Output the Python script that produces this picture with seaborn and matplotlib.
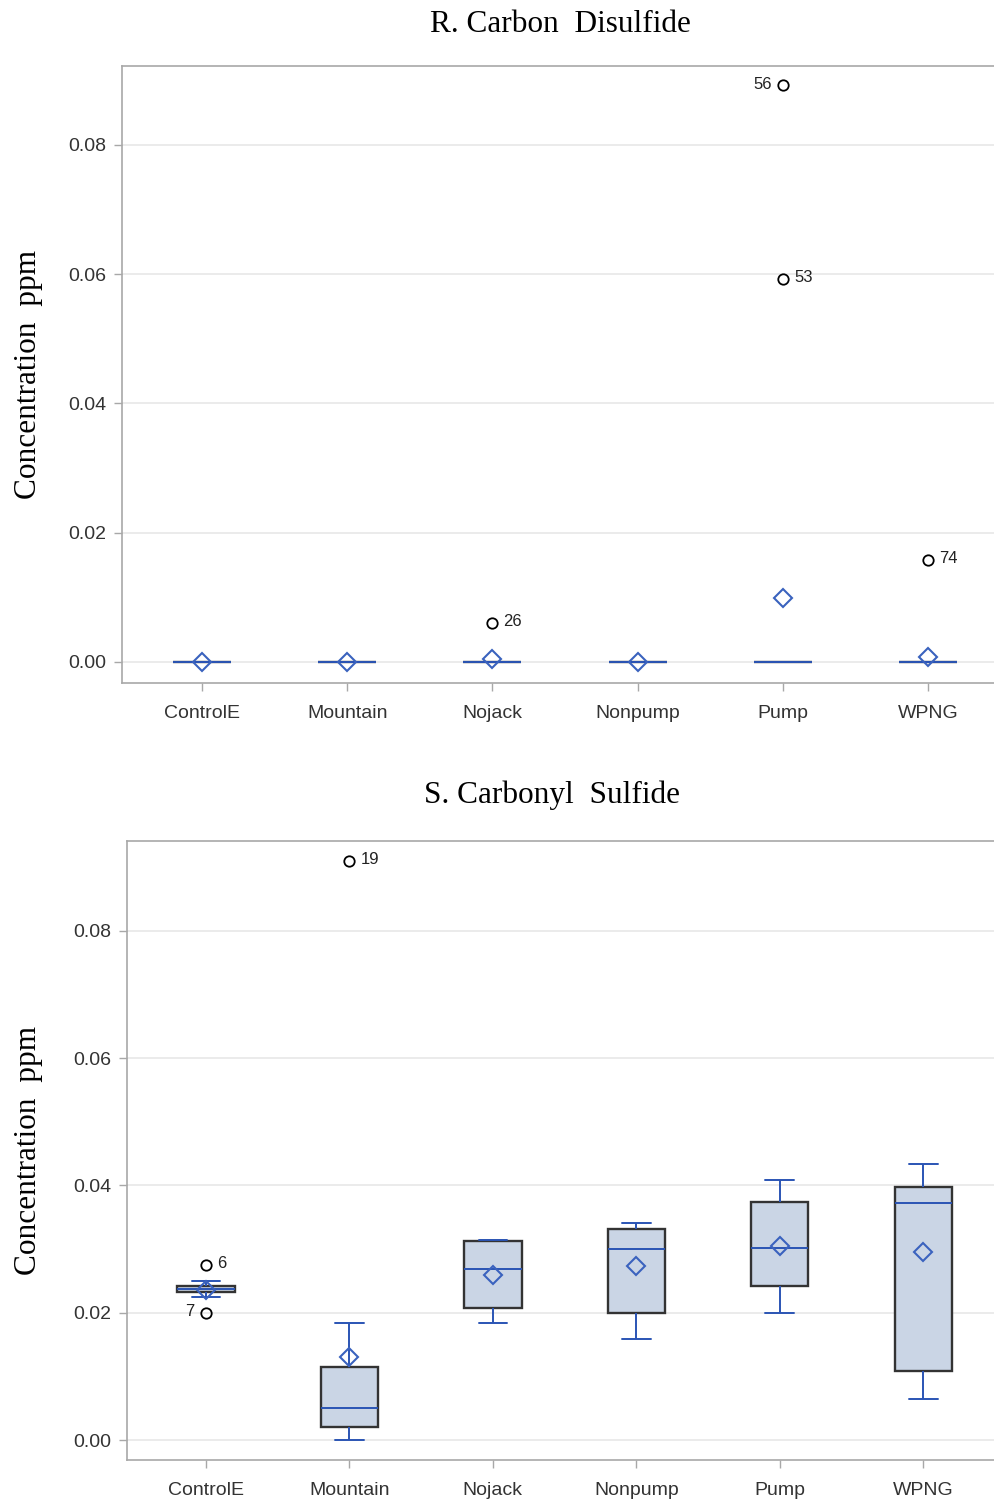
import numpy as np
import pandas as pd
import matplotlib
matplotlib.use("Agg")
import matplotlib.pyplot as plt
import seaborn as sns

# Sampling sites (x categories)
categories = ["ControlE", "Mountain", "Nojack", "Nonpump", "Pump", "WPNG"]

# R. Carbon disulfide (ppm): box statistics per site
cs2_low = [0.0, 0.0, 0.0, 0.0, 0.0, 0.0]
cs2_q1 = [0.0, 0.0, 0.0, 0.0, 0.0, 0.0]
cs2_median = [0.0, 0.0, 0.0, 0.0, 0.0, 0.0]
cs2_q3 = [0.0, 0.0, 0.0, 0.0, 0.0, 0.0]
cs2_high = [0.0, 0.0, 0.0, 0.0, 0.0, 0.0]
cs2_mean = [0.0, 0.0, 0.00045, 0.0, 0.0099, 0.0008]
cs2_outlier_site = ["Pump", "Pump", "Nojack", "WPNG"]
cs2_outlier_value = [0.0892, 0.0592, 0.0060, 0.0158]
cs2_outlier_id = ["56", "53", "26", "74"]

# S. Carbonyl sulfide (ppm): box statistics per site
cos_low = [0.0224, 0.0000, 0.0184, 0.0158, 0.0199, 0.0065]
cos_q1 = [0.0232, 0.0020, 0.0207, 0.0199, 0.0242, 0.0109]
cos_median = [0.0237, 0.0050, 0.0268, 0.0300, 0.0301, 0.0373]
cos_q3 = [0.0242, 0.0115, 0.0313, 0.0332, 0.0374, 0.0398]
cos_high = [0.0250, 0.0184, 0.0314, 0.0341, 0.0409, 0.0434]
cos_mean = [0.0235, 0.0131, 0.0260, 0.0273, 0.0305, 0.0295]
cos_outlier_site = ["ControlE", "ControlE", "Mountain"]
cos_outlier_value = [0.0275, 0.0199, 0.0909]
cos_outlier_id = ["6", "7", "19"]

y_ticks = [0.00, 0.02, 0.04, 0.06, 0.08]

BOX_FILL = "#CAD5E5"
BOX_EDGE = "#333333"
LINE_BLUE = "#2A54B4"
MEAN_BLUE = "#3A62BE"
GRID = "#E6E6E6"
SPINE = "#A8A8A8"
TEXT = "#333333"

sns.set_theme(style="ticks")
plt.rcParams["font.family"] = ["Liberation Sans", "DejaVu Sans"]

W, H = 995, 1501
fig = plt.figure(figsize=(W / 100, H / 100), dpi=100)
fig.patch.set_facecolor("white")

# outlier ids whose label sits on the left of the marker
left_labels = {"56", "7"}


def draw_panel(rect, xlim, ylim, title, title_xy, ylabel_x,
               low, q1, med, q3, high, mean, o_site, o_val, o_id):
    ax = fig.add_axes(rect)
    ax.set_facecolor("white")

    stats = np.column_stack([low, q1, med, q3, high])
    df = pd.DataFrame({
        "site": np.repeat(categories, stats.shape[1]),
        "ppm": stats.ravel(),
    })
    lw = 1.4
    sns.boxplot(
        data=df, x="site", y="ppm", order=categories,
        whis=(0, 100), width=0.4, saturation=1, showfliers=False,
        color=BOX_FILL, linecolor=LINE_BLUE, linewidth=lw,
        boxprops=dict(facecolor=BOX_FILL, edgecolor=BOX_EDGE, linewidth=1.7),
        medianprops=dict(color=LINE_BLUE, linewidth=lw),
        whiskerprops=dict(color=LINE_BLUE, linewidth=lw),
        capprops=dict(color=LINE_BLUE, linewidth=lw),
        ax=ax,
    )

    xpos = np.arange(len(categories))
    ax.plot(xpos, mean, linestyle="none", marker="D", ms=9.5,
            mfc="none", mec=MEAN_BLUE, mew=1.5, zorder=6)

    ox = [categories.index(s) for s in o_site]
    ax.plot(ox, o_val, linestyle="none", marker="o", ms=7.5,
            mfc="none", mec="black", mew=1.3, zorder=6)
    for x, v, lab in zip(ox, o_val, o_id):
        left = lab in left_labels
        ax.annotate(lab, (x, v), xytext=(-8 if left else 8, 1),
                    textcoords="offset points",
                    ha="right" if left else "left", va="center",
                    fontsize=12, color="#222222")

    ax.set_xlim(*xlim)
    ax.set_ylim(*ylim)
    ax.set_yticks(y_ticks)
    ax.set_yticklabels([f"{t:.2f}" for t in y_ticks])
    ax.yaxis.grid(True, color=GRID, linewidth=1.1)
    ax.xaxis.grid(False)
    ax.set_axisbelow(True)

    ax.set_xlabel("")
    ax.set_ylabel("Concentration  ppm", family="Liberation Serif",
                  fontsize=22.5, color="black", va="center")
    ax.yaxis.set_label_coords(ylabel_x, 0.5)

    for side in ["left", "bottom", "top"]:
        ax.spines[side].set_visible(True)
        ax.spines[side].set_color(SPINE)
        ax.spines[side].set_linewidth(1.2)
    ax.spines["right"].set_visible(False)

    ax.tick_params(axis="both", direction="out", length=6, width=1,
                   color=SPINE, labelsize=14, labelcolor=TEXT)
    ax.tick_params(axis="y", pad=5)
    ax.tick_params(axis="x", pad=9.5)

    fig.text(title_xy[0], title_xy[1], title, family="Liberation Serif",
             fontsize=22.5, color="black", ha="center", va="center")
    return ax


top_rect = [122 / W, 1 - 683 / H, 1 - 122 / W, 617 / H]
bot_rect = [127 / W, 1 - 1460 / H, 1 - 127 / W, 619 / H]

draw_panel(top_rect, (-0.55, 5.46), (-0.00325, 0.0922), "R. Carbon  Disulfide",
           (560 / W, 1 - 25 / H), (29 - 122) / (W - 122),
           cs2_low, cs2_q1, cs2_median, cs2_q3, cs2_high, cs2_mean,
           cs2_outlier_site, cs2_outlier_value, cs2_outlier_id)

draw_panel(bot_rect, (-0.55, 5.50), (-0.00314, 0.0941), "S. Carbonyl  Sulfide",
           (552 / W, 1 - 795 / H), (29 - 127) / (W - 127),
           cos_low, cos_q1, cos_median, cos_q3, cos_high, cos_mean,
           cos_outlier_site, cos_outlier_value, cos_outlier_id)

fig.savefig("out.png", dpi=100, facecolor="white")
